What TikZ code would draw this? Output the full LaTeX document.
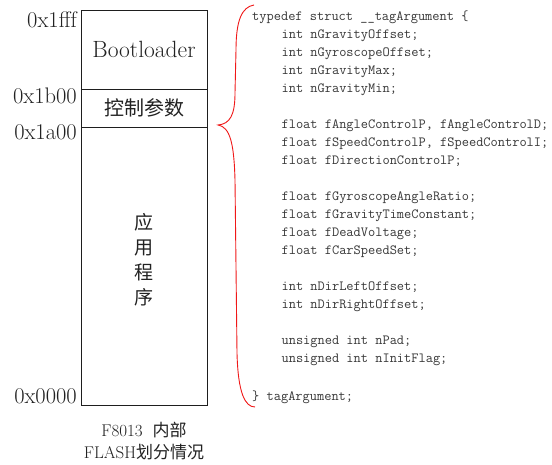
\documentclass[tikz,border=0pt]{standalone}
\usepackage{fontspec}
\usepackage{xcolor}
\usepackage{tikz}
\usetikzlibrary{positioning,calc}
\newfontfamily\cjk{Noto Sans CJK SC}
\definecolor{boxblack}{HTML}{1E1E1E}
\definecolor{inkgray}{HTML}{222222}
\definecolor{codegray}{HTML}{383838}
\definecolor{bracered}{HTML}{F01818}
\newcommand{\ind}{\hspace*{2.1em}}

\begin{document}
\begin{tikzpicture}[x=1pt,y=1pt,
  part/.style={draw=boxblack, line width=0.8pt, minimum width=126pt, inner sep=0pt, outer sep=0pt},
  addr/.style={inner sep=0pt, font=\fontsize{22.5}{22}\selectfont, text=inkgray}]
  \useasboundingbox[fill=white] (0,0) rectangle (552,465);
  % flash partitions
  \node[part, minimum height=79pt, font=\fontsize{23.5}{22}\selectfont, text=inkgray] (boot) at (144,415.5) {Bootloader};
  \node[part, minimum height=38pt, font=\cjk\fontsize{20}{20}\selectfont, text=inkgray, below=0pt of boot] (param) {控制参数};
  \node[part, minimum height=278pt, below=0pt of param] (app) {};
  \node[align=center, font=\cjk\fontsize{19}{25}\selectfont, text=inkgray] (apptext) at ([yshift=6pt]app.center) {应\\用\\程\\序};
  % addresses
  \node[addr, anchor=north east] (a1fff) at ([xshift=-4pt,yshift=-2pt]boot.north west) {0x1fff};
  \node[addr, anchor=north east] (a1b00) at ([xshift=-4pt,yshift=1pt]boot.south west) {0x1b00};
  \node[addr, anchor=north east] (a1a00) at ([xshift=-4pt,yshift=3pt]param.south west) {0x1a00};
  \node[addr, anchor=base east] (a0000) at ([xshift=-4pt,yshift=1pt]app.south west) {0x0000};
  % caption
  \node[align=center, inner sep=0pt, font=\fontsize{17}{22}\selectfont, text=inkgray, below=17pt of app] (caption)
    {F8013\hspace{10pt}{\cjk 内部}\\FLASH{\cjk 划分情况}};
  % struct listing
  \node[anchor=north west, align=left, inner sep=0pt, text=codegray,
        font=\ttfamily\fontsize{14}{18}\selectfont] (code) at (252,454) {%
    typedef struct \_\_tagArgument \{\\
    \ind int nGravityOffset;\\
    \ind int nGyroscopeOffset;\\
    \ind int nGravityMax;\\
    \ind int nGravityMin;\\[18pt]
    \ind float fAngleControlP, fAngleControlD;\\
    \ind float fSpeedControlP, fSpeedControlI;\\
    \ind float fDirectionControlP;\\[18pt]
    \ind float fGyroscopeAngleRatio;\\
    \ind float fGravityTimeConstant;\\
    \ind float fDeadVoltage;\\
    \ind float fCarSpeedSet;\\[18pt]
    \ind int nDirLeftOffset;\\
    \ind int nDirRightOffset;\\[18pt]
    \ind unsigned int nPad;\\
    \ind unsigned int nInitFlag;\\[20pt]
    \} tagArgument;};
  % brace
  \coordinate (btop) at (254,460);
  \coordinate (btip) at (218,340);
  \coordinate (bbot) at (255,58);
  \draw[bracered, line width=0.9pt]
    (btop) .. controls (242,458) and (236,445) .. (236,415)
    -- (235,372) .. controls (235,350) and (230,341) .. (btip)
    .. controls (230,338) and (234,322) .. (235,285)
    -- (237,112) .. controls (238,72) and (245,58) .. (bbot);
\end{tikzpicture}
\end{document}
